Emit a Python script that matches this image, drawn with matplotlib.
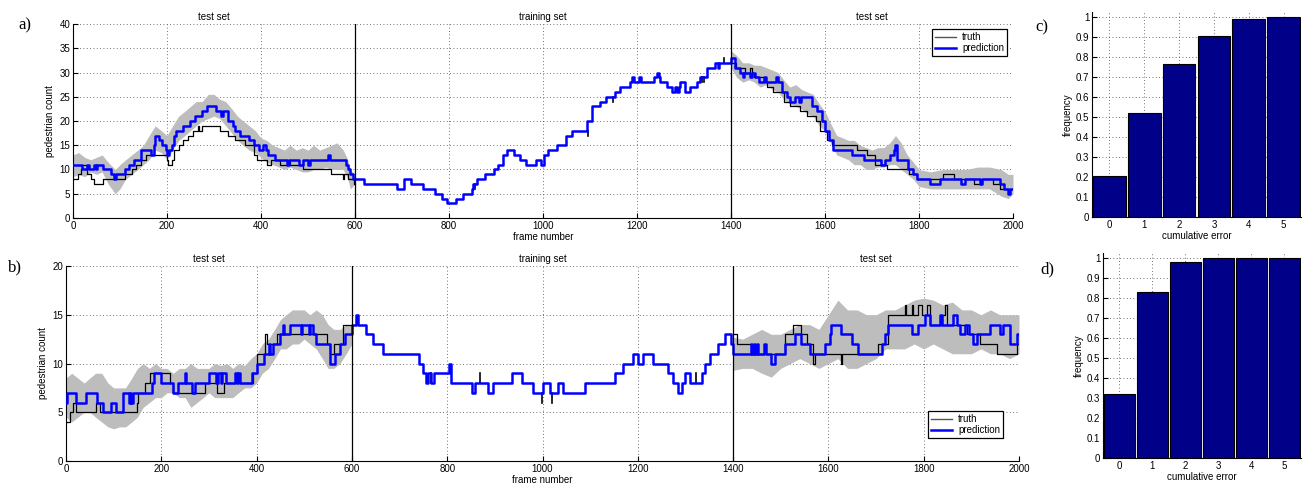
import matplotlib.pyplot as plt
import numpy as np

# step data: (start frame, count) pairs, each value holds until the next frame
pred_a = [(0, 11), (19, 10), (30, 11), (35, 10), (45, 11), (48, 10), (51, 11), (65, 10), (80, 9), (88, 8),
          (92, 9), (110, 10), (120, 11), (130, 12), (145, 14), (165, 13), (172, 15), (175, 17), (183, 16),
          (190, 15), (197, 14), (200, 13), (205, 14), (210, 15), (215, 17), (220, 18), (235, 19), (250, 20),
          (260, 21), (275, 22), (285, 23), (305, 22), (315, 21), (320, 22), (330, 20), (340, 19), (345, 18),
          (355, 17), (375, 16), (385, 15), (395, 14), (405, 15), (410, 14), (415, 13), (430, 12), (455, 11),
          (460, 12), (480, 11), (490, 12), (500, 11), (505, 12), (543, 13), (547, 12), (580, 11), (585, 10),
          (590, 9), (595, 8), (620, 7), (690, 6), (705, 8), (720, 7), (745, 6), (770, 5), (785, 4), (795, 3),
          (816, 4), (830, 5), (848, 6), (852, 7), (860, 8), (877, 9), (895, 10), (905, 11), (916, 13),
          (923, 14), (938, 13), (951, 12), (964, 11), (985, 12), (995, 11), (1003, 13), (1010, 14),
          (1029, 15), (1050, 17), (1061, 18), (1093, 20), (1104, 23), (1121, 24), (1135, 25), (1153, 26),
          (1164, 27), (1185, 28), (1190, 29), (1194, 28), (1205, 29), (1208, 28), (1236, 29), (1243, 30),
          (1247, 29), (1250, 28), (1264, 27), (1275, 26), (1281, 27), (1286, 26), (1289, 27), (1292, 28),
          (1302, 26), (1313, 27), (1327, 28), (1334, 29), (1349, 31), (1367, 32), (1372, 31), (1375, 32),
          (1400, 33), (1409, 31), (1420, 30), (1425, 29), (1428, 30), (1440, 29), (1444, 30), (1452, 29),
          (1459, 28), (1470, 29), (1474, 28), (1495, 29), (1501, 28), (1508, 26), (1520, 25), (1526, 24),
          (1537, 25), (1545, 24), (1550, 25), (1572, 23), (1583, 22), (1594, 20), (1601, 18), (1608, 16),
          (1618, 14), (1657, 13), (1682, 12), (1720, 11), (1727, 12), (1739, 13), (1747, 14), (1750, 15),
          (1754, 12), (1777, 10), (1788, 9), (1795, 8), (1824, 7), (1845, 8), (1890, 7), (1898, 8),
          (1930, 7), (1935, 8), (1973, 7), (1980, 6), (1990, 5), (1993, 6)]

truth_a_left = [(0, 8), (10, 9), (18, 10), (20, 11), (30, 9), (38, 8), (45, 7), (65, 8), (110, 9), (125, 10),
                (135, 11), (145, 12), (155, 13), (200, 12), (203, 11), (210, 12), (215, 14), (225, 15),
                (235, 16), (245, 17), (255, 18), (265, 19), (268, 18), (275, 19), (313, 18), (330, 17),
                (345, 16), (365, 15), (385, 13), (392, 12), (413, 11), (421, 12), (440, 11), (458, 12),
                (462, 11), (490, 10), (550, 9), (575, 8), (577, 9), (585, 8), (597, 7)]
truth_a_right = [(1400, 32), (1410, 31), (1430, 30), (1440, 31), (1445, 30), (1450, 29), (1470, 28),
                 (1477, 27), (1490, 26), (1512, 24), (1526, 23), (1547, 22), (1561, 21), (1580, 20),
                 (1590, 18), (1605, 16), (1615, 15), (1668, 14), (1690, 13), (1707, 11), (1732, 10),
                 (1778, 9), (1795, 8), (1852, 9), (1874, 8), (1916, 7), (1934, 8), (1958, 7), (1973, 6)]
# truth spikes inside the training set: (frame, low, high)
spikes_a = [(856, 6, 7), (1095, 17, 18), (1148, 24, 25), (1338, 28, 29), (1343, 28, 29), (1385, 32, 33)]

band_a_frames = [0, 12, 25, 38, 50, 62, 75, 90, 100, 112, 125, 138, 150, 162, 175, 188, 200, 212, 225,
                 238, 250, 262, 275, 288, 300, 312, 325, 338, 350, 362, 375, 388, 400, 412, 425, 438,
                 450, 462, 475, 488, 500, 512, 525, 538, 550, 562, 575, 585, 590, 600]
band_a_lo = [8.5, 9, 8.5, 9.5, 9, 9.5, 7, 5, 6, 8, 9, 10, 11, 12, 14, 13.5, 12, 14, 16, 17, 18, 19, 20, 20.5,
             21, 20.5, 19, 17.5, 16, 15, 14, 13.5, 12.5, 11.5, 11, 10.5, 10, 10.5, 10, 9.5, 9.5, 10, 10,
             10.5, 10, 10, 10, 8, 6, 7]
band_a_hi = [13, 13.5, 12.5, 12, 12.5, 13, 11.5, 10, 11, 12, 13, 14, 15, 17, 19, 18, 17, 19, 21, 22, 23,
             24, 24, 25.5, 25.5, 24.5, 24, 22.5, 21, 20, 19, 18, 16.5, 16, 15, 14.5, 14, 15, 14, 14.5, 14,
             15, 14, 14.5, 15, 15.5, 14, 12, 10, 9]
band_a2_frames = [1400, 1412, 1425, 1438, 1450, 1462, 1475, 1488, 1500, 1512, 1525, 1538, 1550, 1562,
                  1575, 1588, 1600, 1612, 1625, 1638, 1650, 1662, 1675, 1688, 1700, 1712, 1725, 1738,
                  1750, 1762, 1775, 1788, 1800, 1825, 1850, 1875, 1900, 1925, 1950, 1975, 1990, 2000]
band_a2_lo = [31, 29, 28, 28.5, 28, 27, 27.5, 26.5, 26, 24.5, 23.5, 23, 22.5, 21.5, 21, 19, 18, 15.5, 13,
              12.5, 12, 11, 11, 10, 10, 10.5, 10.5, 11, 11, 10, 9, 8, 6.5, 6, 6, 6, 6, 6, 6, 4.5, 4, 5]
band_a2_hi = [34.5, 33.5, 32, 32, 31.5, 31.5, 31, 30.5, 30, 28.5, 27, 27.5, 26.5, 26, 25.5, 23.5, 22,
              19.5, 17, 16.5, 16, 16, 15, 14.5, 14, 14.5, 14.5, 15.5, 17, 15.5, 13, 11.5, 10, 9.5, 10,
              10, 10, 10.5, 10.5, 10, 9, 9]

pred_b = [(0, 6), (3, 7), (20, 6), (42, 7), (65, 6), (78, 5), (95, 6), (105, 5), (120, 7), (132, 6),
          (135, 7), (137, 6), (140, 7), (180, 8), (185, 9), (200, 8), (225, 7), (235, 8), (250, 9), (252, 8),
          (265, 7), (270, 8), (300, 9), (315, 8), (318, 9), (325, 8), (328, 9), (335, 8), (355, 9), (358, 8),
          (362, 9), (366, 8), (390, 9), (400, 10), (415, 11), (425, 12), (428, 11), (435, 12), (450, 13),
          (455, 14), (457, 13), (470, 14), (493, 13), (496, 14), (510, 13), (513, 14), (518, 13), (525, 12),
          (555, 10), (565, 11), (575, 12), (585, 13), (600, 14), (608, 15), (612, 14), (630, 13), (645, 12),
          (665, 11), (740, 10), (750, 9), (755, 8), (760, 9), (765, 8), (772, 9), (804, 10), (809, 8),
          (851, 7), (858, 8), (886, 7), (897, 8), (935, 9), (956, 8), (980, 7), (1001, 8), (1015, 7),
          (1033, 8), (1043, 7), (1089, 8), (1152, 9), (1169, 10), (1190, 11), (1201, 10), (1211, 11),
          (1232, 10), (1264, 9), (1274, 8), (1285, 7), (1292, 8), (1299, 9), (1309, 8), (1334, 9),
          (1341, 10), (1351, 11), (1369, 12), (1383, 13), (1395, 12), (1400, 11), (1437, 12), (1440, 11),
          (1443, 12), (1446, 11), (1450, 12), (1452, 11), (1465, 12), (1468, 11), (1480, 10), (1488, 11),
          (1508, 12), (1529, 13), (1543, 12), (1561, 11), (1592, 12), (1603, 13), (1606, 14), (1627, 13),
          (1649, 12), (1663, 11), (1712, 12), (1719, 13), (1726, 14), (1775, 13), (1789, 14), (1803, 15),
          (1813, 14), (1834, 15), (1838, 14), (1862, 15), (1869, 14), (1876, 13), (1887, 14), (1894, 13),
          (1904, 12), (1911, 13), (1939, 14), (1960, 13), (1967, 14), (1981, 12), (1995, 13)]

truth_b_left = [(0, 4), (8, 5), (15, 6), (22, 5), (64, 6), (72, 5), (148, 6), (151, 7), (165, 8), (176, 9),
                (218, 8), (225, 7), (292, 8), (316, 7), (332, 8), (393, 9), (400, 11), (418, 13), (421, 12),
                (442, 13), (547, 12), (554, 11), (562, 12), (582, 14)]
truth_b_right = [(1400, 13), (1409, 12), (1437, 11), (1508, 13), (1525, 14), (1543, 13), (1555, 12),
                 (1567, 10), (1571, 11), (1626, 10), (1629, 11), (1705, 12), (1726, 15), (1760, 16),
                 (1763, 15), (1775, 16), (1778, 15), (1789, 16), (1796, 15), (1806, 16), (1813, 14),
                 (1838, 15), (1845, 16), (1848, 14), (1890, 13), (1918, 12), (1953, 11), (1995, 12)]
spikes_b = [(765, 8, 9), (869, 8, 9), (998, 6, 7), (1019, 6, 7), (1323, 8, 9)]

band_b_frames = [0, 12, 25, 38, 50, 62, 75, 88, 100, 112, 125, 138, 150, 162, 175, 188, 200, 212, 225,
                 238, 250, 262, 275, 288, 300, 312, 325, 338, 350, 362, 375, 388, 400, 412, 425, 438,
                 450, 462, 475, 488, 500, 512, 525, 538, 550, 562, 575, 588, 600]
band_b_lo = [4.5, 4, 4.5, 5, 5, 4.5, 4, 3.5, 3.3, 3.5, 3.5, 4, 4.5, 5.5, 6, 6.5, 6.5, 7, 7, 6.5, 6.5, 5.5,
             6, 6.5, 7, 6.5, 6.5, 6.5, 6.5, 7, 7.5, 7.5, 8, 9, 9.5, 10.5, 11.5, 11.5, 12, 12, 12.5, 12,
             11.5, 10.5, 9.5, 9.5, 10, 11, 12]
band_b_hi = [8.5, 9, 8.5, 8, 8.5, 9, 9, 8, 7.5, 7.5, 7.5, 8.5, 9.5, 10, 9.5, 10, 9.5, 9.5, 9, 9.5, 9.5,
             10, 9.5, 9.5, 9.5, 10, 9.8, 10, 9.5, 10, 9.8, 10.5, 11, 12, 12.5, 13.5, 14.5, 15, 15.5, 15.5,
             15.5, 15, 15.5, 15, 14, 13.5, 13.5, 14, 14]
band_b2_frames = [1400, 1420, 1440, 1460, 1480, 1500, 1520, 1540, 1560, 1580, 1600, 1620, 1640, 1660,
                  1680, 1700, 1720, 1740, 1760, 1780, 1800, 1820, 1840, 1860, 1880, 1900, 1920, 1940,
                  1960, 1980, 2000]
band_b2_lo = [9.3, 9.5, 9.5, 9, 8.6, 9.5, 10, 10.5, 10, 9.5, 10, 10.5, 9.5, 9.5, 10, 10.5, 11.5, 11.5,
              11.5, 12, 11.5, 12, 11.5, 11, 11, 11, 11.5, 11, 11, 10.5, 11]
band_b2_hi = [12.7, 12.5, 13, 13.5, 13, 13, 13.5, 14, 14, 13.5, 15, 16.5, 15.5, 15.5, 15, 15, 15.5,
              15.5, 16, 16.5, 16.7, 16.5, 16, 16.3, 15.5, 15.5, 15, 15.5, 15, 15, 15]

err_levels = [0, 1, 2, 3, 4, 5]
freq_c = [0.205, 0.52, 0.763, 0.906, 0.992, 1.0]
freq_d = [0.322, 0.832, 0.98, 1.0, 1.0, 1.0]

frame_ticks = np.arange(0, 2001, 200)
regions = [(300, 'test set'), (1000, 'training set'), (1700, 'test set')]
splits = [600, 1400]

plt.rcParams['font.family'] = ['Liberation Sans', 'DejaVu Sans']
plt.rcParams['font.size'] = 7
GRID = dict(color='#444444', linestyle=(0, (1, 3)), linewidth=0.6)


def to_step(points, end):
    xs = [p[0] for p in points] + [end]
    ys = [p[1] for p in points] + [points[-1][1]]
    return xs, ys


def style_axes(ax):
    for side in ['top', 'right']:
        ax.spines[side].set_visible(False)
    ax.tick_params(direction='in', length=3.5, width=0.8, pad=2, labelsize=7)
    ax.grid(True, **GRID)
    ax.set_axisbelow(True)


def count_panel(ax, pred, truth_l, truth_r, spikes, bands, ymax, legend_loc, legend_anchor):
    for frames, lo, hi in bands:
        ax.fill_between(frames, lo, hi, color='#BDBDBD', linewidth=0, zorder=1)
    x, y = to_step(truth_l, 600)
    ax.step(x, y, where='post', color='black', lw=0.9, zorder=2)
    x, y = to_step(truth_r, 2000)
    ax.step(x, y, where='post', color='black', lw=0.9, zorder=2)
    for f, lo, hi in spikes:
        ax.plot([f, f], [lo, hi], color='black', lw=1.2, zorder=2)
    x, y = to_step(pred, 2000)
    ax.step(x, y, where='post', color='#0000FF', lw=1.8, zorder=3)
    for s in splits:
        ax.axvline(s, color='black', lw=0.9, zorder=4)
    ax.set_xlim(0, 2000)
    ax.set_ylim(0, ymax)
    ax.set_xticks(frame_ticks)
    ax.set_yticks(np.arange(0, ymax + 1, 5))
    ax.set_xlabel('frame number', labelpad=1)
    ax.set_ylabel('pedestrian count', labelpad=3)
    for xc, name in regions:
        ax.text(xc, ymax * 1.012, name, ha='center', va='bottom', fontsize=7)
    style_axes(ax)
    h1, = ax.plot([], [], color='#555555', lw=1.0)
    h2, = ax.plot([], [], color='#0000FF', lw=1.8)
    leg = ax.legend([h1, h2], ['truth', 'prediction'], loc=legend_loc, bbox_to_anchor=legend_anchor,
                    fontsize=7, frameon=True, fancybox=False, edgecolor='black', framealpha=1,
                    handlelength=2.2, handletextpad=0.6, borderpad=0.3, labelspacing=0.1,
                    borderaxespad=0)
    leg.get_frame().set_linewidth(0.9)


def bar_panel(ax, freqs):
    ax.bar(err_levels, freqs, width=0.94, color='#000088', edgecolor='black', linewidth=0.8, zorder=2)
    ax.set_xlim(-0.5, 5.5)
    ax.set_ylim(0, 1.025)
    ax.set_xticks(err_levels)
    ax.set_yticks(np.round(np.arange(0, 1.01, 0.1), 1))
    ax.set_yticklabels(['0'] + [f'{v:.1f}' for v in np.arange(0.1, 0.95, 0.1)] + ['1'])
    ax.set_xlabel('cumulative error', labelpad=1)
    ax.set_ylabel('frequency', labelpad=2)
    style_axes(ax)
    ax.tick_params(axis='x', length=0)


fig = plt.figure(figsize=(13.12, 4.88), dpi=100)
ax_a = fig.add_axes([0.0556, 0.5533, 0.7165, 0.3975])
ax_b = fig.add_axes([0.0503, 0.0553, 0.7264, 0.3996])
ax_c = fig.add_axes([0.8323, 0.5553, 0.1593, 0.4201])
ax_d = fig.add_axes([0.8407, 0.0615, 0.1509, 0.4201])

count_panel(ax_a, pred_a, truth_a_left, truth_a_right, spikes_a,
            [(band_a_frames, band_a_lo, band_a_hi), (band_a2_frames, band_a2_lo, band_a2_hi)],
            40, 'upper right', (0.9936, 0.974))
count_panel(ax_b, pred_b, truth_b_left, truth_b_right, spikes_b,
            [(band_b_frames, band_b_lo, band_b_hi), (band_b2_frames, band_b2_lo, band_b2_hi)],
            20, 'lower right', (0.983, 0.118))
bar_panel(ax_c, freq_c)
bar_panel(ax_d, freq_d)

for xf, yf, lab in [(0.014, 0.948, 'a)'), (0.006, 0.452, 'b)'), (0.789, 0.943, 'c)'), (0.793, 0.447, 'd)')]:
    fig.text(xf, yf, lab, family='Liberation Serif', fontsize=12, ha='left', va='center')

fig.savefig('out.png', dpi=100)
